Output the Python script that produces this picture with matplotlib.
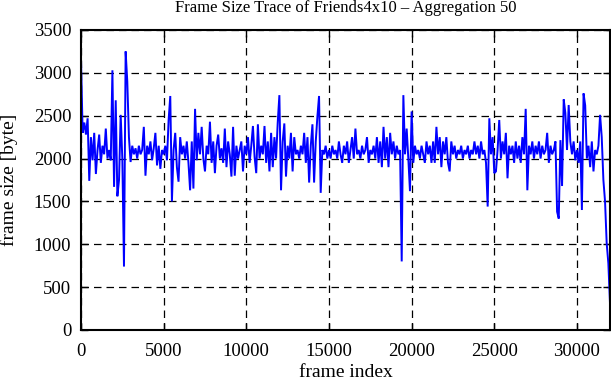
import numpy as np
import matplotlib.pyplot as plt

plt.rcParams['font.family'] = ['Liberation Serif', 'DejaVu Serif']

# frame size, one value every 100 frames
step = 100
size_0 = [3160, 2300, 2420, 2280, 2470, 1740, 2250, 1980, 2300, 1820,
          2100, 2280, 1950, 2150, 2050, 2350, 2000, 2100, 1980, 3030,
          1670, 2680, 1560, 1750, 2510, 2000, 740, 3250, 2900, 2250,
          1960, 2150, 2050, 2120, 2000, 2150, 2050, 2100, 2370, 1800,
          2150, 2050, 2200, 1980, 2120, 2300, 1920, 2150, 1880, 2100]
size_5k = [2050, 2150, 1980, 2450, 2730, 1500, 2100, 2300, 1900, 1730,
           2250, 2050, 2150, 2000, 2200, 1950, 1630, 2200, 1650, 2580,
           1980, 2300, 2050, 2370, 2000, 1850, 2150, 2050, 2430, 1950,
           2200, 1830, 2150, 2280, 2000, 2120, 1950, 2350, 1900, 2200,
           2050, 1790, 2370, 1800, 2150, 2000, 2100, 2200, 1850, 2150]
size_10k = [2050, 2250, 1950, 2150, 2380, 2020, 1830, 2400, 2000, 2150,
            2050, 2380, 1950, 2200, 1850, 2300, 1900, 2250, 2000, 2420,
            2740, 1630, 2200, 2410, 1790, 2150, 2000, 2300, 1850, 2250,
            2050, 2100, 2000, 2150, 2050, 2300, 1950, 2250, 1720, 2150,
            2400, 1720, 2200, 2490, 2730, 1600, 2100, 2050, 2150, 2000]
size_15k = [2100, 2000, 2150, 2050, 2100, 2000, 2200, 2050, 1950, 2150,
            2050, 2200, 1950, 2100, 2250, 2000, 2350, 2050, 2100, 2000,
            2150, 2050, 2100, 2250, 1950, 2100, 2050, 2150, 2000, 2250,
            1950, 2200, 1900, 2370, 2000, 2250, 1900, 2300, 2050, 2200,
            2000, 2150, 2050, 2100, 800, 2740, 2050, 2350, 2000, 1620]
size_20k = [2550, 1950, 2150, 2050, 2100, 2000, 2150, 2050, 1950, 2200,
            2050, 2150, 1950, 2200, 1950, 2370, 2050, 2250, 1900, 2200,
            2050, 2250, 1950, 1850, 2200, 2050, 2150, 2000, 2100, 2050,
            2150, 2000, 2100, 2050, 2150, 2000, 2100, 2050, 2200, 2050,
            2150, 2000, 2200, 2050, 2100, 1950, 1440, 2470, 2050, 2250]
size_25k = [1830, 1850, 2100, 2450, 2000, 2200, 2050, 2300, 1770, 2150,
            2050, 2150, 1950, 2200, 2000, 2150, 1950, 2250, 2050, 2580,
            1630, 2150, 2050, 2200, 2000, 2150, 2050, 2200, 2000, 2150,
            2050, 2100, 2300, 1950, 2150, 2050, 2100, 2200, 1380, 1300,
            2215, 1680, 2690, 2530, 2100, 2625, 2200, 2050, 2200, 1980]
size_30k = [2100, 1950, 2200, 1400, 2760, 2620, 2000, 2150, 1900, 2200,
            1850, 2100, 2050, 2150, 2510, 2250, 1750, 1500, 1010, 780,
            310]

sizes = np.array(size_0 + size_5k + size_10k + size_15k + size_20k + size_25k + size_30k)
frames = np.arange(len(sizes)) * step

fig = plt.figure(figsize=(6.11, 3.80), dpi=100)
ax = fig.add_axes([81/611, 50/380, 529/611, 300/380])

ax.plot(frames, sizes, color='#0000ff', lw=1.4, solid_joinstyle='miter')

ax.set_xlim(0, 32000)
ax.set_ylim(0, 3500)
ax.set_xticks(np.arange(0, 30001, 5000))
ax.set_yticks(np.arange(0, 3501, 500))
ax.grid(True, color='black', ls=(0, (6, 4)), lw=0.9)
ax.tick_params(direction='in', top=True, right=True, length=5, width=1,
               labelsize=13.5)
ax.tick_params(axis='x', pad=9)
ax.tick_params(axis='y', pad=7)
for s in ax.spines.values():
    s.set_linewidth(1.5)

ax.set_title('Frame Size Trace of Friends4x10 – Aggregation 50', fontsize=12, pad=13)
ax.set_xlabel('frame index', fontsize=14, labelpad=3)
ax.set_ylabel('frame size [byte]', fontsize=14, labelpad=11)

fig.savefig('out.png', dpi=100)
